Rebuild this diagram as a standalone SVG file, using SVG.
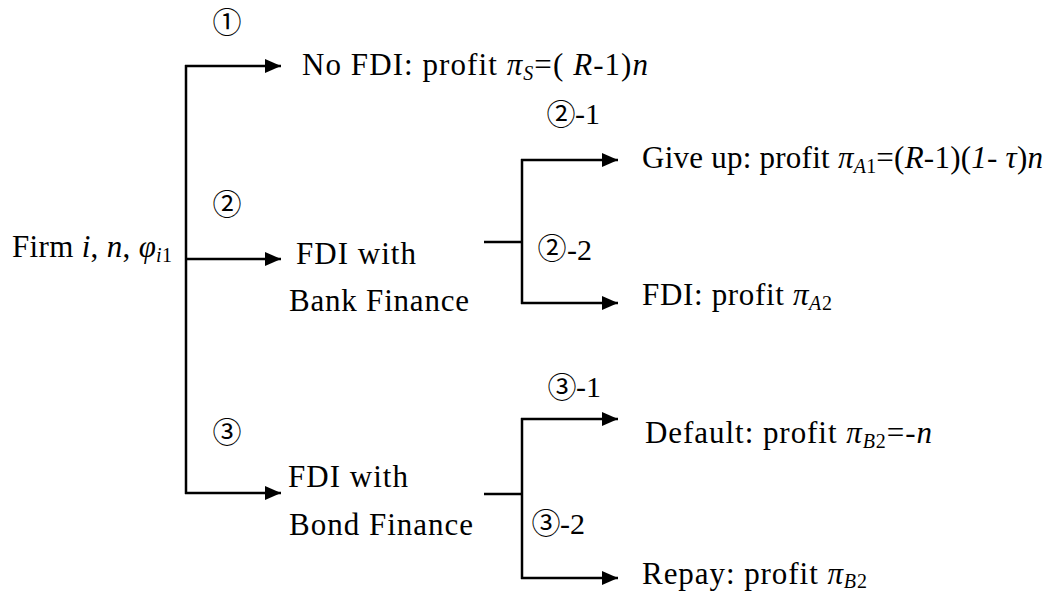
<svg xmlns="http://www.w3.org/2000/svg" width="1053" height="593" viewBox="0 0 1053 593">
<defs>
<marker id="ah" markerUnits="userSpaceOnUse" markerWidth="18" markerHeight="15" refX="16" refY="7" orient="auto">
<path d="M0,0 L16,7 L0,14 z" fill="#000"/>
</marker>
</defs>
<rect width="1053" height="593" fill="#fff"/>
<g id="connectors" stroke="#000" stroke-width="2.5" fill="none">
<line x1="186" y1="65" x2="186" y2="494"/>
<line x1="185" y1="66" x2="281" y2="66" marker-end="url(#ah)"/>
<line x1="186" y1="259" x2="281" y2="259" marker-end="url(#ah)"/>
<line x1="185" y1="493" x2="281" y2="493" marker-end="url(#ah)"/>
<line x1="484" y1="242" x2="522" y2="242"/>
<line x1="522" y1="159" x2="522" y2="304"/>
<line x1="521" y1="160" x2="618" y2="160" marker-end="url(#ah)"/>
<line x1="521" y1="303" x2="618" y2="303" marker-end="url(#ah)"/>
<line x1="484" y1="494" x2="522" y2="494"/>
<line x1="522" y1="418" x2="522" y2="579"/>
<line x1="521" y1="419" x2="618" y2="419" marker-end="url(#ah)"/>
<line x1="521" y1="578" x2="618" y2="578" marker-end="url(#ah)"/>
</g>
<g id="labels">
<text x="227" y="33" font-family="Noto Sans CJK JP" font-size="29" text-anchor="middle">①</text>
<text x="227" y="215" font-family="Noto Sans CJK JP" font-size="29" text-anchor="middle">②</text>
<text x="227" y="443" font-family="Noto Sans CJK JP" font-size="29" text-anchor="middle">③</text>
<text x="561" y="125" font-family="Noto Sans CJK JP" font-size="29" text-anchor="middle">②</text>
<text x="552" y="259" font-family="Noto Sans CJK JP" font-size="29" text-anchor="middle">②</text>
<text x="562" y="398" font-family="Noto Sans CJK JP" font-size="29" text-anchor="middle">③</text>
<text x="546" y="534" font-family="Noto Sans CJK JP" font-size="29" text-anchor="middle">③</text>
<text x="575" y="124" font-family="Liberation Serif" font-size="30">-1</text>
<text x="567" y="260" font-family="Liberation Serif" font-size="30">-2</text>
<text x="576" y="397" font-family="Liberation Serif" font-size="30">-1</text>
<text x="560" y="534" font-family="Liberation Serif" font-size="30">-2</text>
</g>
<g id="firm">
<text x="12" y="257" font-family="Liberation Serif" font-size="31" textLength="160" lengthAdjust="spacing">Firm <tspan font-style="italic">i</tspan>, <tspan font-style="italic">n</tspan>, <tspan font-style="italic">φ</tspan><tspan font-style="italic" font-size="20" dy="5">i</tspan><tspan font-size="20">1</tspan></text>
</g>
<g id="nofdi">
<text x="302" y="75" font-family="Liberation Serif" font-size="31" textLength="346" lengthAdjust="spacing">No FDI: profit <tspan font-style="italic">π</tspan><tspan font-style="italic" font-size="20" dy="5">S</tspan><tspan dy="-5">=( </tspan><tspan font-style="italic">R</tspan>-1)<tspan font-style="italic">n</tspan></text>
</g>
<g id="bank">
<text x="296" y="264" font-family="Liberation Serif" font-size="31" textLength="120" lengthAdjust="spacing">FDI with</text>
<text x="289" y="311" font-family="Liberation Serif" font-size="31" textLength="180" lengthAdjust="spacing">Bank Finance</text>
</g>
<g id="giveup">
<text x="642" y="168" font-family="Liberation Serif" font-size="31" textLength="401" lengthAdjust="spacing">Give up: profit <tspan font-style="italic">π</tspan><tspan font-style="italic" font-size="20" dy="5">A</tspan><tspan font-size="20">1</tspan><tspan dy="-5">=(</tspan><tspan font-style="italic">R</tspan>-1)(<tspan font-style="italic">1</tspan>- <tspan font-style="italic">τ</tspan>)<tspan font-style="italic">n</tspan></text>
</g>
<g id="fdiA2">
<text x="642" y="305" font-family="Liberation Serif" font-size="31" textLength="190" lengthAdjust="spacing">FDI: profit <tspan font-style="italic">π</tspan><tspan font-style="italic" font-size="20" dy="5">A</tspan><tspan font-size="20">2</tspan></text>
</g>
<g id="bond">
<text x="288" y="487" font-family="Liberation Serif" font-size="31" textLength="120" lengthAdjust="spacing">FDI with</text>
<text x="289" y="535" font-family="Liberation Serif" font-size="31" textLength="184" lengthAdjust="spacing">Bond Finance</text>
</g>
<g id="default">
<text x="645" y="443" font-family="Liberation Serif" font-size="31" textLength="287" lengthAdjust="spacing">Default: profit <tspan font-style="italic">π</tspan><tspan font-style="italic" font-size="20" dy="5">B</tspan><tspan font-size="20">2</tspan><tspan dy="-5">=-</tspan><tspan font-style="italic">n</tspan></text>
</g>
<g id="repay">
<text x="642" y="584" font-family="Liberation Serif" font-size="31" textLength="225" lengthAdjust="spacing">Repay: profit <tspan font-style="italic">π</tspan><tspan font-style="italic" font-size="20" dy="4">B</tspan><tspan font-size="20">2</tspan></text>
</g>
</svg>
